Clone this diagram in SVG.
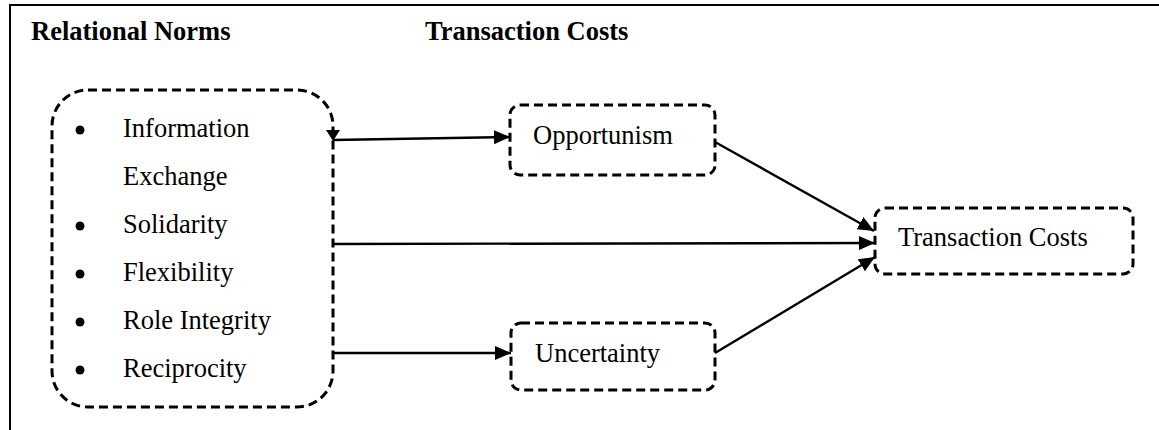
<svg xmlns="http://www.w3.org/2000/svg" width="1159" height="430" viewBox="0 0 1159 430">
<defs>
<style>
.t{font-family:"Liberation Serif","Times New Roman",serif;font-size:26.5px;fill:#000}
.h{font-weight:bold}
.box{fill:none;stroke:#000;stroke-width:3;stroke-dasharray:9 5}
.c{fill:none;stroke:#000;stroke-width:2.4}
</style>
<marker id="ah" viewBox="0 0 16 14" refX="16" refY="7" markerWidth="16" markerHeight="14" markerUnits="userSpaceOnUse" orient="auto">
<path d="M0,0 L16,7 L0,14 Z" fill="#000"/>
</marker>
</defs>
<rect width="1159" height="430" fill="#fff"/>
<path d="M10,430 V5 H1159" fill="none" stroke="#000" stroke-width="2"/>
<text class="t h" x="31" y="40">Relational Norms</text>
<text class="t h" x="425" y="40">Transaction Costs</text>
<g id="norms">
<rect class="box" x="52" y="90" width="281" height="317" rx="36"/>
<g class="t">
<circle cx="80" cy="130" r="4.5"/><text class="t" x="123" y="137">Information</text>
<text class="t" x="123" y="185">Exchange</text>
<circle cx="80" cy="226" r="4.5"/><text class="t" x="123" y="233">Solidarity</text>
<circle cx="80" cy="274" r="4.5"/><text class="t" x="123" y="281">Flexibility</text>
<circle cx="80" cy="322" r="4.5"/><text class="t" x="123" y="329">Role Integrity</text>
<circle cx="80" cy="370" r="4.5"/><text class="t" x="123" y="377">Reciprocity</text>
</g>
</g>
<g id="opportunism">
<rect class="box" x="510" y="105" width="205" height="70" rx="10"/>
<text class="t" x="533" y="144">Opportunism</text>
</g>
<g id="uncertainty">
<rect class="box" x="511" y="323" width="204" height="67" rx="10"/>
<text class="t" x="535" y="362">Uncertainty</text>
</g>
<g id="transaction-costs">
<rect class="box" x="875" y="208" width="258" height="66" rx="10"/>
<text class="t" x="898" y="246">Transaction Costs</text>
</g>
<g id="connectors">
<path class="c" d="M333,140 L510,137" marker-end="url(#ah)"/>
<path d="M326,130 L340,130 L333,141 Z" fill="#000"/>
<path class="c" d="M333,244 L875,243" marker-end="url(#ah)"/>
<path class="c" d="M333,353 L511,353" marker-end="url(#ah)"/>
<path class="c" d="M715,142 L874,231" marker-end="url(#ah)"/>
<path class="c" d="M715,353 L875,257" marker-end="url(#ah)"/>
</g>
</svg>
